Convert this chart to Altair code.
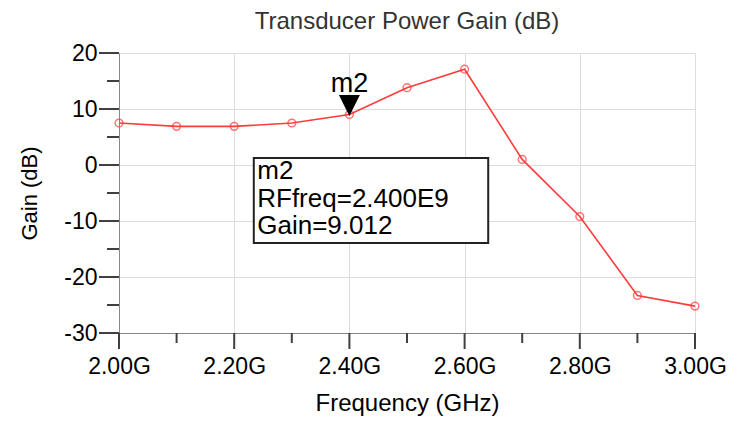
import altair as alt
import pandas as pd

# Data
freq_ghz = [2.0, 2.1, 2.2, 2.3, 2.4, 2.5, 2.6, 2.7, 2.8, 2.9, 3.0]
gain_db = [7.5, 6.9, 6.9, 7.5, 9.012, 13.8, 17.1, 1.0, -9.2, -23.3, -25.2]

x_ticks = [2.0, 2.1, 2.2, 2.3, 2.4, 2.5, 2.6, 2.7, 2.8, 2.9, 3.0]
x_tick_major = [True, False, True, False, True, False, True, False, True, False, True]
x_major = [2.0, 2.2, 2.4, 2.6, 2.8, 3.0]
y_major = [-30, -20, -10, 0, 10, 20]
y_minor = [-25, -15, -5, 5, 15]

# Marker annotation
marker_name = ["m2"]
marker_freq = [2.4]
marker_gain = [9.012]
marker_label_gain = [13.0]

box_x = [2.234]
box_x2 = [2.641]
box_y = [1.25]
box_y2 = [-13.93]
box_lines = ["m2", "RFfreq=2.400E9", "Gain=9.012"]
box_line_x = [2.24, 2.24, 2.24]
box_line_y = [-2.55, -7.45, -12.3]

df = pd.DataFrame({"freq": freq_ghz, "gain": gain_db})
mk = pd.DataFrame({"name": marker_name, "freq": marker_freq, "gain": marker_gain,
                   "label_gain": marker_label_gain})
bx = pd.DataFrame({"x": box_x, "x2": box_x2, "y": box_y, "y2": box_y2})
bl = pd.DataFrame({"text": box_lines, "x": box_line_x, "y": box_line_y})
xt = pd.DataFrame({"xt": x_ticks, "major": x_tick_major})
ymaj = pd.DataFrame({"yv": y_major})
ymin = pd.DataFrame({"ym": y_minor})

FONT = "Liberation Sans"
RED = "#ff3b3b"
AXC = "#404040"

x_scale = alt.Scale(domain=[2.0, 3.0], nice=False, zero=False)
y_scale = alt.Scale(domain=[-30, 20], nice=False, zero=False)

x_axis = alt.Axis(
    values=x_major,
    labelExpr="format(datum.value, '.2f') + 'G'",
    labelFlush=False,
    labelOverlap=False,
    ticks=False,
    tickSize=0,
    title="Frequency (GHz)",
    titlePadding=13,
    labelPadding=22,
    labelFontSize=23,
    titleFontSize=24,
    titleFontWeight="normal",
)
y_axis = alt.Axis(
    values=y_major,
    labelExpr="toString(datum.value)",
    labelFlush=False,
    labelOverlap=False,
    ticks=False,
    tickSize=0,
    title="Gain (dB)",
    titlePadding=22,
    labelPadding=22,
    labelFontSize=23,
    titleFontSize=22,
    titleFontWeight="normal",
)

line = alt.Chart(df).mark_line(color=RED, strokeWidth=1.6).encode(
    x=alt.X("freq:Q", scale=x_scale, axis=x_axis),
    y=alt.Y("gain:Q", scale=y_scale, axis=y_axis),
)
pts = alt.Chart(df).mark_point(shape="circle", filled=False, color=RED, size=60,
                               strokeWidth=1.5).encode(
    x=alt.X("freq:Q", scale=x_scale),
    y=alt.Y("gain:Q", scale=y_scale),
)
x_major_ticks = alt.Chart(xt).transform_filter("datum.major").mark_rule(
    color=AXC, strokeWidth=2).encode(
    x=alt.X("xt:Q", scale=x_scale),
    y=alt.value(280),
    y2=alt.value(296),
)
x_minor_ticks = alt.Chart(xt).transform_filter("!datum.major").mark_rule(
    color=AXC, strokeWidth=2).encode(
    x=alt.X("xt:Q", scale=x_scale),
    y=alt.value(280),
    y2=alt.value(290),
)
y_major_ticks = alt.Chart(ymaj).mark_rule(color=AXC, strokeWidth=2).encode(
    y=alt.Y("yv:Q", scale=y_scale),
    x=alt.value(-20),
    x2=alt.value(0),
)
y_minor_ticks = alt.Chart(ymin).mark_rule(color=AXC, strokeWidth=2).encode(
    y=alt.Y("ym:Q", scale=y_scale),
    x=alt.value(-12),
    x2=alt.value(0),
)
tri = alt.Chart(mk).mark_point(shape="M-1,-1L1,-1L0,1Z", filled=True, color="black",
                               size=440, opacity=1, yOffset=-9).encode(
    x=alt.X("freq:Q", scale=x_scale),
    y=alt.Y("gain:Q", scale=y_scale),
)
tri_label = alt.Chart(mk).mark_text(font=FONT, fontSize=27, color="black",
                                    baseline="alphabetic", align="center").encode(
    x=alt.X("freq:Q", scale=x_scale),
    y=alt.Y("label_gain:Q", scale=y_scale),
    text="name:N",
)
box = alt.Chart(bx).mark_rect(fill="white", stroke="#222222", strokeWidth=2).encode(
    x=alt.X("x:Q", scale=x_scale),
    x2="x2:Q",
    y=alt.Y("y:Q", scale=y_scale),
    y2="y2:Q",
)
box_text = alt.Chart(bl).mark_text(font=FONT, fontSize=26, color="black",
                                   baseline="alphabetic", align="left").encode(
    x=alt.X("x:Q", scale=x_scale),
    y=alt.Y("y:Q", scale=y_scale),
    text="text:N",
)

chart = alt.layer(line, pts, y_major_ticks, y_minor_ticks, x_minor_ticks,
                  tri, tri_label, box, box_text, x_major_ticks).properties(
    width=576,
    height=280,
    autosize=alt.AutoSizeParams(type="none"),
    padding={"left": 111, "top": 45, "right": 32, "bottom": 88},
    title=alt.Title("Transducer Power Gain (dB)", fontSize=24, font=FONT,
                    color="#333333", fontWeight="normal", anchor="middle", offset=8),
).configure_view(
    stroke="#555555", strokeWidth=2
).configure_axis(
    labelFont=FONT, titleFont=FONT, labelColor="#444444", titleColor="#444444",
    titleFontWeight="normal",
    domainColor=AXC, domainWidth=2.2,
    gridColor="#c8c8c8", gridWidth=1.5,
).configure(background="white")

chart.save("out.html", embed_options={"renderer": "svg", "actions": False})
